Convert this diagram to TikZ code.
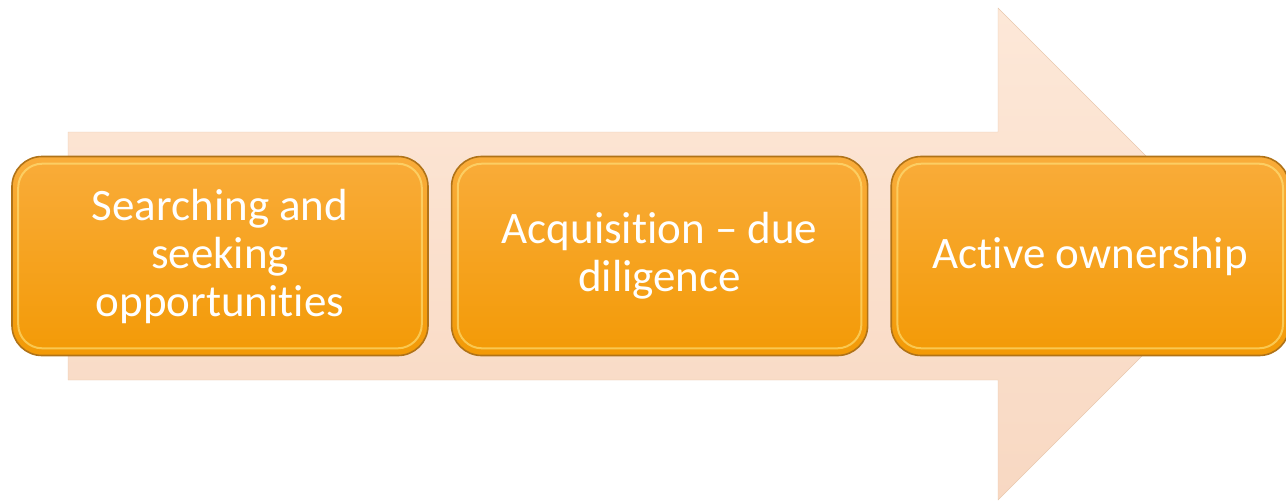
\documentclass[tikz,border=0pt]{standalone}
\usepackage{fontspec}
\setmainfont{Carlito}[Ligatures={NoCommon}]
\usetikzlibrary{calc}
\usetikzlibrary{positioning}

\definecolor{arrowtop}{HTML}{FDE8D8}
\definecolor{arrowbot}{HTML}{F8D8C2}
\definecolor{arrowline}{HTML}{E9C9AE}
\definecolor{steptop}{HTML}{F9AC3A}
\definecolor{stepbot}{HTML}{F39A06}
\definecolor{stepline}{HTML}{B07318}
\definecolor{stepglow}{HTML}{FFE680}

% break the t-i ligature of Carlito
\newcommand{\tnolig}{t\kern0pt }

\tikzset{
 stepbox/.style={draw=stepline, line width=1.6pt, rounded corners=30pt, top color=steptop, bottom color=stepbot,
   minimum width=416pt, minimum height=199pt, align=center, text=white,
   font=\fontsize{45}{48}\selectfont, inner sep=0pt},
 glow/.style={draw=stepglow, line width=2pt, rounded corners=24pt, opacity=.6},
}

\begin{document}
\begin{tikzpicture}[x=1pt, y=-1pt]
\useasboundingbox (0,0) rectangle (1286,501);
% big arrow behind
\draw[arrowline, top color=arrowtop, bottom color=arrowbot] (68,132)--(998,132)--(998,8)--(1244,254)--(998,500)--(998,380)--(68,380)--cycle;
% steps
\node[stepbox] (search) at (220,256) {Searching and\\seeking\\opportuni\tnolig ies};
\node[stepbox, right=22pt of search] (acq) {Acquisi\tnolig ion -- due\\diligence};
\node[stepbox, minimum width=398pt, right=22pt of acq] (own) {Ac\tnolig ive ownership};
% inner highlight
\foreach \n in {search,acq,own}
 \draw[glow] ($(\n.north west)+(7pt,-8pt)$) rectangle ($(\n.south east)+(-7pt,8pt)$);
\end{tikzpicture}
\end{document}
